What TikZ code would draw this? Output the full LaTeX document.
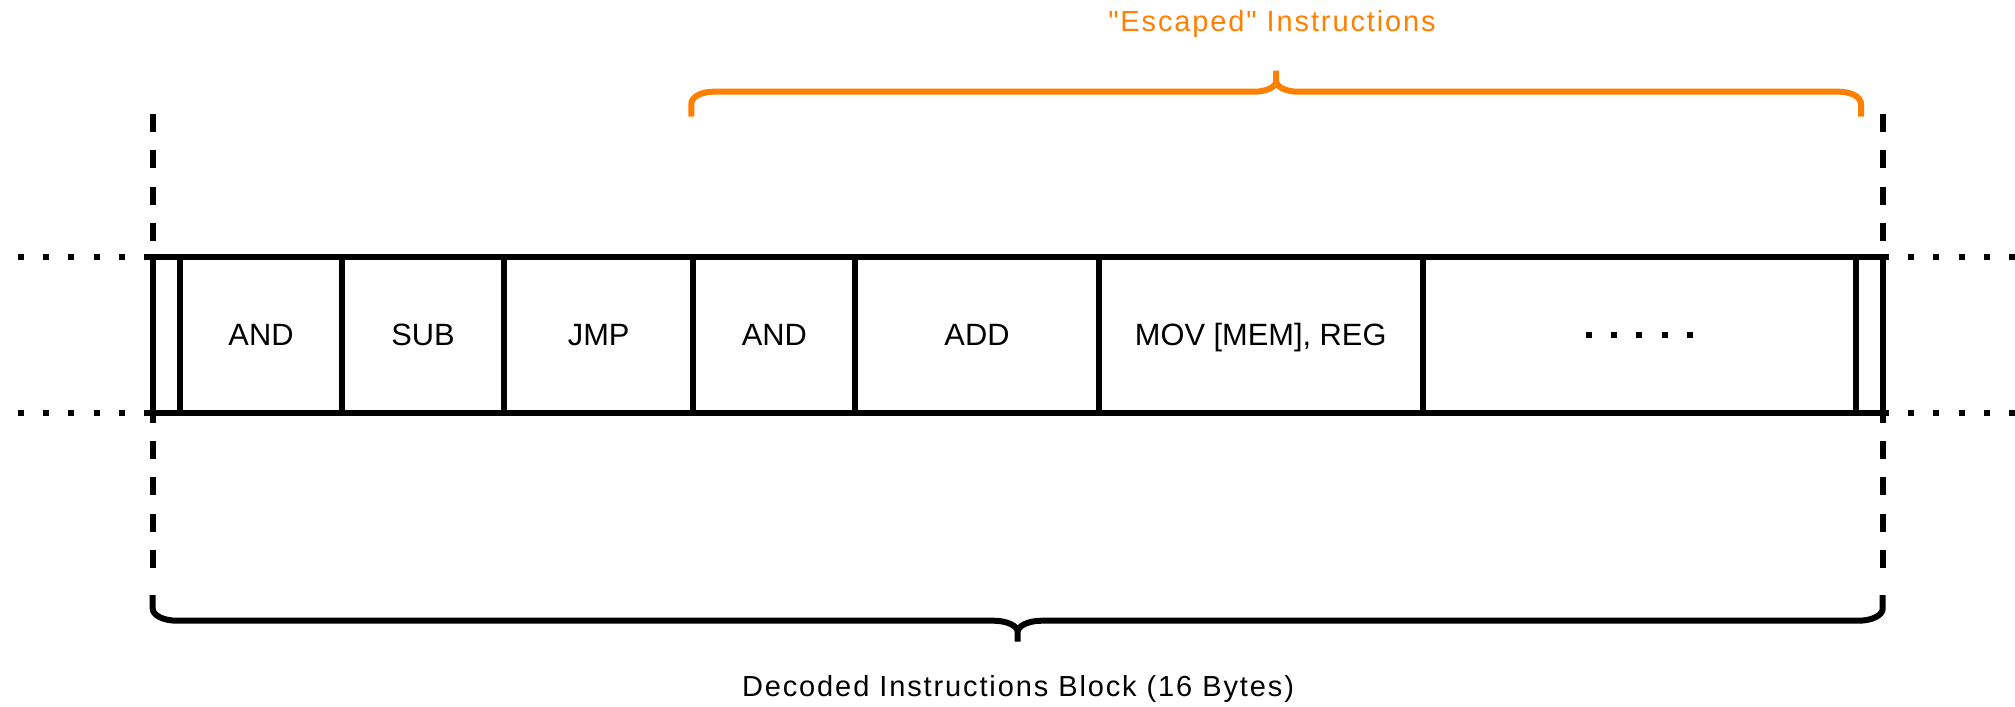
\documentclass[tikz,border=0pt]{standalone}
\usepackage{fontspec}
\setmainfont{Liberation Sans}[Ligatures=TeXOff]
\definecolor{escorange}{RGB}{255,128,0}
\newcommand\instrfont{\fontsize{15.4pt}{18pt}\selectfont}
\newcommand\notefont{\fontsize{14.5pt}{17pt}\selectfont\addfontfeatures{LetterSpace=6.5}}
\begin{document}
\begin{tikzpicture}[x=0.5pt,y=-0.5pt,
  cell/.style={draw, line width=3pt, minimum height=78pt, inner sep=0pt, outer sep=0pt,
               font=\instrfont, text height=11.03pt, text depth=0pt},
  guide/.style={line width=3pt, dash pattern=on 9pt off 9.17pt},
  dotline/.style={line width=3pt, dash pattern=on 3pt off 9.65pt},
  brace/.style={line width=3pt, line join=round},
  note/.style={font=\notefont, anchor=base, inner sep=0pt}]
\useasboundingbox (0,0) rectangle (2015,707);

% the 16-byte block, one cell per decoded instruction
\node[cell, minimum width=13.65pt]  (c0) at (166.35,334.7) {};
\node[cell, minimum width=81pt]     (c1) at (261,334.7)    {AND};
\node[cell, minimum width=81pt]     (c2) at (423,334.7)    {SUB};
\node[cell, minimum width=94.65pt]  (c3) at (598.65,334.7) {JMP};
\node[cell, minimum width=81pt]     (c4) at (774.3,334.7)  {AND};
\node[cell, minimum width=121.7pt]  (c5) at (977,334.7)    {ADD};
\node[cell, minimum width=162pt]    (c6) at (1260.7,334.7) {MOV [MEM], REG};
\node[cell, minimum width=216.65pt] (c7) at (1639.35,334.7) {};
\node[cell, minimum width=13.35pt]  (c8) at (1869.35,334.7) {};

% ellipsis inside the last wide cell
\draw[dotline] ([xshift=-26.8pt]c7.center) -- ([xshift=26.8pt]c7.center);

% instruction stream continuing on both sides
\coordinate (dl-top) at (17.7,256.7);
\coordinate (dl-bot) at (17.7,412.7);
\coordinate (dr-top) at (2015,256.7);
\coordinate (dr-bot) at (2015,412.7);
\draw[dotline] (dl-top) -- (c0.north west);
\draw[dotline] (dl-bot) -- (c0.south west);
\draw[dotline] (c8.north east) -- (dr-top);
\draw[dotline] (c8.south east) -- (dr-bot);

% dashed block boundaries
\coordinate (gl-top) at (152.7,114);
\coordinate (gl-bot) at (152.7,568);
\coordinate (gr-top) at (1882.7,114);
\coordinate (gr-bot) at (1882.7,568);
\draw[guide] (gl-top) -- (gl-bot);
\draw[guide] (gr-top) -- (gr-bot);

% brace over the escaped instructions
\draw[brace, escorange]
  (691.3,116.7) -- (691.3,103.7) .. controls (691.3,97.1) and (701.2,91.7) .. (713.3,91.7)
  -- (1254.2,91.7) .. controls (1266.3,91.7) and (1276.2,87) .. (1276.2,81) -- (1276.2,70.7)
  (1276.2,81) .. controls (1276.2,87) and (1286.1,91.7) .. (1298.2,91.7)
  -- (1839,91.7) .. controls (1851.1,91.7) and (1861,97.1) .. (1861,103.7) -- (1861,116.7);

% brace under the whole block
\draw[brace]
  (152.7,595) -- (152.7,608.7) .. controls (152.7,615.3) and (163.5,620.7) .. (176.7,620.7)
  -- (993.7,620.7) .. controls (1006.9,620.7) and (1017.7,625.8) .. (1017.7,632) -- (1017.7,641.7)
  (1017.7,632) .. controls (1017.7,625.8) and (1028.5,620.7) .. (1041.7,620.7)
  -- (1858.7,620.7) .. controls (1871.9,620.7) and (1882.7,615.3) .. (1882.7,608.7) -- (1882.7,595);

\node[note, text=escorange] (esc) at (1272,31.7) {"Escaped" Instructions};
\node[note] (dec) at (1018,696.7) {Decoded Instructions Block (16 Bytes)};
\end{tikzpicture}
\end{document}
